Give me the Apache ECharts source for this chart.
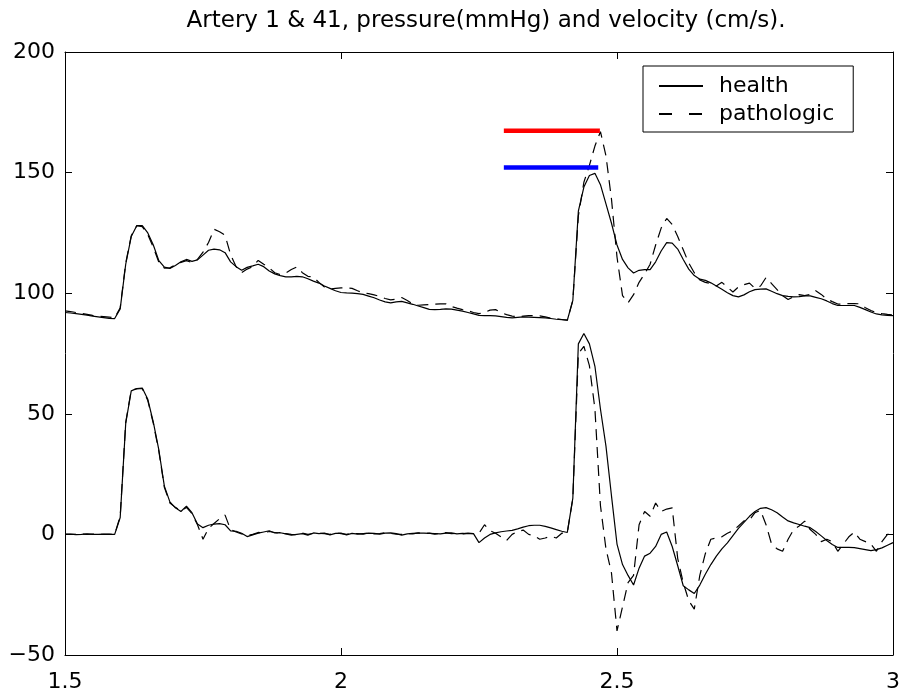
<!DOCTYPE html>
<html>
<head>
<meta charset="utf-8">
<script src="https://cdn.jsdelivr.net/npm/echarts@6/dist/echarts.min.js"></script>
<style>
  html, body { margin: 0; padding: 0; background: #fff; }
  #chart { width: 904px; height: 696px; }
</style>
</head>
<body>
<div id="chart"></div>
<script>
// time (s)
var time = [
  1.50, 1.51, 1.52, 1.53, 1.54, 1.55, 1.56, 1.57, 1.58, 1.59,
  1.60, 1.61, 1.62, 1.63, 1.64, 1.65, 1.66, 1.67, 1.68, 1.69,
  1.70, 1.71, 1.72, 1.73, 1.74, 1.75, 1.76, 1.77, 1.78, 1.79,
  1.80, 1.81, 1.82, 1.83, 1.84, 1.85, 1.86, 1.87, 1.88, 1.89,
  1.90, 1.91, 1.92, 1.93, 1.94, 1.95, 1.96, 1.97, 1.98, 1.99,
  2.00, 2.01, 2.02, 2.03, 2.04, 2.05, 2.06, 2.07, 2.08, 2.09,
  2.10, 2.11, 2.12, 2.13, 2.14, 2.15, 2.16, 2.17, 2.18, 2.19,
  2.20, 2.21, 2.22, 2.23, 2.24, 2.25, 2.26, 2.27, 2.28, 2.29,
  2.30, 2.31, 2.32, 2.33, 2.34, 2.35, 2.36, 2.37, 2.38, 2.39,
  2.40, 2.41, 2.42, 2.43, 2.44, 2.45, 2.46, 2.47, 2.48, 2.49,
  2.50, 2.51, 2.52, 2.53, 2.54, 2.55, 2.56, 2.57, 2.58, 2.59,
  2.60, 2.61, 2.62, 2.63, 2.64, 2.65, 2.66, 2.67, 2.68, 2.69,
  2.70, 2.71, 2.72, 2.73, 2.74, 2.75, 2.76, 2.77, 2.78, 2.79,
  2.80, 2.81, 2.82, 2.83, 2.84, 2.85, 2.86, 2.87, 2.88, 2.89,
  2.90, 2.91, 2.92, 2.93, 2.94, 2.95, 2.96, 2.97, 2.98, 2.99,
  3.00
];

// pressure (mmHg)
var healthPressure = [
  92, 91.8, 91.5, 91.2, 90.9, 90.5, 90.2, 89.9, 89.6, 89.5,
  93.5, 112, 123.5, 128, 128, 125, 120, 113.5, 110.8, 110.3,
  111.5, 113, 114, 113.2, 113.8, 115.8, 117.8, 118.3, 118, 116.8,
  113, 111, 109.5, 110.7, 111.3, 112, 111, 109.2, 108, 107.3,
  106.8, 106.8, 107, 106.8, 106, 105, 104.2, 103, 102, 101,
  100.3, 100.1, 100, 99.8, 99.5, 98.8, 98.1, 97.2, 96.4, 96,
  96.4, 96.6, 96, 95.4, 94.7, 94, 93.3, 93.2, 93.3, 93.5,
  93.4, 93, 92.6, 92, 91.4, 90.8, 90.7, 90.7, 90.6, 90.3,
  90, 89.8, 90, 90.2, 90.1, 90, 89.9, 89.8, 89.5, 89.2,
  89, 88.8, 97, 134, 144, 148.8, 149.7, 145, 137, 129,
  120, 114, 110.5, 108.4, 109.5, 109.8, 109.8, 113, 117.5, 121,
  120.8, 118.3, 114, 110, 107.3, 105.8, 105.3, 104.3, 103, 101.6,
  100.2, 99, 98.5, 99.3, 100.6, 101.5, 101.7, 101.8, 100.8, 99.8,
  99, 98.7, 98.5, 98.6, 98.9, 98.9, 98.3, 97.7, 96.8, 95.7,
  94.9, 94.9, 94.9, 94.9, 94.1, 93.2, 92.2, 91.4, 91, 90.8,
  90.7
];
var pathoPressure = [
  92.7, 92.4, 92, 91.6, 91.2, 90.8, 90.5, 90.3, 90.1, 89.8,
  94, 112.5, 123.8, 128, 127.6, 124.3, 119, 112.8, 110.4, 110.5,
  111.8, 112.8, 113.5, 112.7, 114, 117, 121, 126.5, 125.5, 124,
  116, 111, 108.5, 110, 111, 113.6, 112, 110.5, 108.5, 107.7,
  108.4, 109.8, 110.9, 108.5, 107, 106.7, 104.5, 102.6, 101.8, 102,
  102.2, 102.2, 102, 101, 100.2, 99.8, 99.3, 98.7, 97.8, 97.2,
  97.5, 98.2, 97, 95.5, 95, 95.2, 95.3, 95.5, 95.6, 95.6,
  94.5, 93.8, 93.2, 92.7, 92, 91.5, 92, 93, 93.2, 92,
  91.1, 90.5, 90.2, 90.5, 90.7, 90.7, 90.6, 90.2, 89.6, 89.4,
  89.1, 88.8, 97, 132, 146, 153, 161, 167, 157, 139,
  115, 99, 96, 99.4, 104.5, 108, 112, 120, 127, 131,
  128.5, 123.5, 118, 112.5, 108.5, 105.5, 104.5, 104, 103, 104.5,
  102.5, 100.5, 102.6, 103.5, 104.2, 102, 103, 106.5, 104, 101.5,
  99, 97.4, 98.5, 99.4, 99, 99.5, 101, 99.5, 97.6, 96.5,
  95.5, 95.5, 95.7, 95.7, 95.6, 94, 92.8, 92, 91.5, 91.2,
  91
];

// velocity (cm/s)
var healthVelocity = [
  0, 0.1, -0.1, 0, 0.2, 0, 0, 0.1, 0, 0,
  7, 46, 59.5, 60.5, 60.7, 56, 46.5, 35, 20, 13.5,
  11, 9.5, 11.7, 9, 4.3, 2.8, 3.8, 4.3, 4.5, 4,
  1.5, 1.3, 0.5, -0.9, -0.2, 0.5, 1, 1.5, 0.6, 0.7,
  0.2, -0.3, 0, 0.3, -0.3, 0.6, 0.3, 0.5, -0.2, 0.4,
  0.5, -0.2, 0.4, 0.1, 0.3, 0.5, 0.4, 0.1, 0.5, 0.6,
  0.3, -0.3, 0.2, 0.4, 0.5, 0.5, 0.4, 0.3, 0.2, 0.5,
  0.6, 0.2, 0.4, 0.3, 0.3, -3.4, -1.5, 0, 0.6, 1.1,
  1.4, 1.7, 2.3, 3, 3.6, 3.8, 3.8, 3.3, 2.7, 2,
  1.3, 0.8, 15, 79, 83.3, 79, 69.7, 52, 36.6, 16,
  -4, -12.5, -17, -21, -14, -9, -7.8, -5, 0, 1,
  -5, -13, -21.3, -23, -24.5, -21, -16.5, -12.5, -9, -6,
  -3.5, -0.5, 2.5, 5, 7.5, 9.5, 10.8, 11.1, 10.2, 9,
  7.2, 5.6, 4.8, 4.1, 3.4, 2.8, 1.2, -0.6, -2.5, -4.2,
  -5.4, -5.4, -5.4, -5.5, -5.9, -6.3, -6.7, -6.3, -5.6, -4.5,
  -3.4
];
var pathoVelocity = [
  0.1, 0, 0, 0.1, 0, 0.1, 0, 0, 0.1, 0,
  7.5, 46.5, 59.8, 60.3, 60.5, 55.5, 46, 34.5, 19.5, 13,
  11.2, 9.8, 11.2, 8.6, 4, -2, 2.5, 4.5, 6.5, 8,
  2, 1, 0.2, -0.5, 0, 0.8, 0.7, 1.2, 0.8, 0.4,
  0.3, 0, -0.2, 0.5, 0, 0.4, 0.5, 0.3, 0, 0.6,
  0.3, 0, 0.5, 0.3, 0.1, 0.6, 0.2, 0.3, 0.7, 0.4,
  0.1, 0, 0.4, 0.2, 0.6, 0.3, 0.5, 0.1, 0.4, 0.7,
  0.3, 0.4, 0.2, 0.5, 0.3, 0.5, 4, 1.5, 0.5, -1,
  -2.5, 0, 1.2, 1.8, 0, -0.5, -2, -1.5, -0.8, -1.5,
  0.5, 0.8, 15, 75, 78, 70, 52, 12, -6, -16,
  -40, -30, -20, -17, 4, 9.5, 7.5, 13, 9.5, 10.5,
  11, -10, -20, -27.5, -31, -17, -8, -2, -1.5, -1,
  0.5, 1.5, 3.5, 5.6, 6, 9, 10, 4, -4, -6,
  -7, -2, 2, 3.5, 5.5, 2, 0, -3, -2, -3,
  -7, -4, -1, 1, -2, -3, -4, -7, -3, 0,
  0
];

// peak markers
var markStart = 2.295;
var redEnd = 2.469, redLevel = 167.3;
var blueEnd = 2.466, blueLevel = 152.1;

var xTicks = [1.5, 3, 0.5];   // min, max, step
var yTicks = [-50, 200, 50];

var font = 'DejaVu Sans';

function pairs(ys) {
  return time.map(function (t, i) { return [t, ys[i]]; });
}

var chart = echarts.init(document.getElementById('chart'), null, { renderer: 'canvas' });

var axisCommon = {
  type: 'value',
  splitLine: { show: false },
  axisLine: { show: true, onZero: false, lineStyle: { color: '#000', width: 1 } },
  axisTick: { show: true, inside: true, length: 7, lineStyle: { color: '#000', width: 1 } }
};

function xAxisDef(pos, showLabel) {
  return Object.assign({}, axisCommon, {
    position: pos,
    min: xTicks[0], max: xTicks[1], interval: xTicks[2],
    axisLabel: { show: showLabel, color: '#000', fontFamily: font, fontSize: 22, margin: 16 }
  });
}
function yAxisDef(pos, showLabel) {
  return Object.assign({}, axisCommon, {
    position: pos,
    min: yTicks[0], max: yTicks[1], interval: yTicks[2],
    axisLabel: {
      show: showLabel, color: '#000', fontFamily: font, fontSize: 22, margin: 10,
      formatter: function (v) { return v < 0 ? '\u2212' + Math.abs(v) : String(v); }
    }
  });
}

function curve(name, ys, dashed) {
  return {
    name: name,
    type: 'line',
    data: pairs(ys),
    symbol: 'none',
    silent: true,
    z: dashed ? 2 : 3,
    itemStyle: { color: '#000' },
    lineStyle: { color: '#000', width: 1.2, type: dashed ? [11, 7] : 'solid' }
  };
}

var option = {
  animation: false,
  backgroundColor: '#fff',
  title: {
    text: 'Artery 1 & 41, pressure(mmHg) and velocity (cm/s).',
    left: 481,
    top: 5,
    textAlign: 'center',
    textStyle: { fontFamily: font, fontSize: 23, fontWeight: 'normal', color: '#000' }
  },
  grid: { left: 65, right: 11, top: 52, bottom: 41, containLabel: false },
  legend: {
    data: [
      { name: 'health' },
      { name: 'pathologic', lineStyle: { type: [13, 17] } }
    ],
    orient: 'vertical',
    left: 643,
    top: 66,
    padding: [9, 19, 7, 15],
    itemGap: 6,
    itemWidth: 44,
    itemHeight: 14,
    borderColor: '#000',
    borderWidth: 1,
    backgroundColor: '#fff',
    selectedMode: false,
    itemStyle: { opacity: 0 },
    textStyle: { fontFamily: font, fontSize: 22, color: '#000', padding: [0, 0, 0, 11] }
  },
  xAxis: [xAxisDef('bottom', true), xAxisDef('top', false)],
  yAxis: [yAxisDef('left', true), yAxisDef('right', false)],
  series: [
    curve('pathologic', pathoPressure, true),
    curve('pathologic', pathoVelocity, true),
    curve('health', healthPressure, false),
    curve('health', healthVelocity, false),
    {
      name: 'peak pathologic',
      type: 'line',
      symbol: 'none',
      silent: true,
      z: 5,
      data: [[markStart, redLevel], [redEnd, redLevel]],
      lineStyle: { color: '#ff0000', width: 4.5 }
    },
    {
      name: 'peak health',
      type: 'line',
      symbol: 'none',
      silent: true,
      z: 5,
      data: [[markStart, blueLevel], [blueEnd, blueLevel]],
      lineStyle: { color: '#0000ff', width: 4.5 }
    }
  ]
};

chart.setOption(option);
</script>
</body>
</html>
